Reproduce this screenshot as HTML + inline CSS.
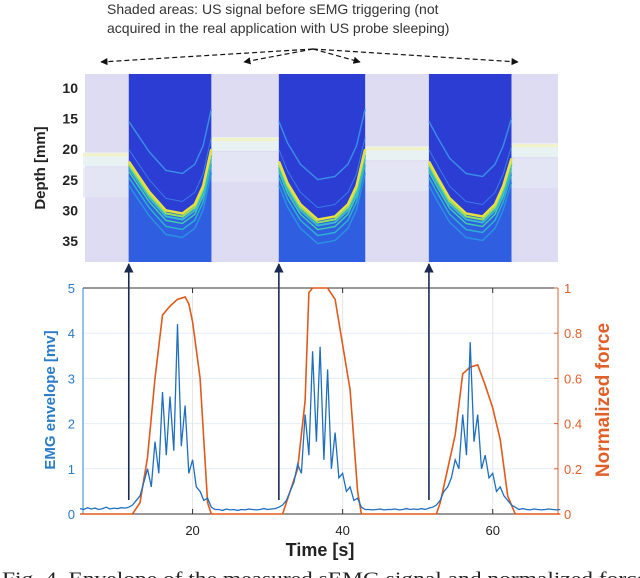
<!DOCTYPE html>
<html><head><meta charset="utf-8"><style>
body{margin:0;background:#fff;}
svg{display:block;font-family:"Liberation Sans",sans-serif;}
</style></head><body>
<svg id="fig" width="640" height="578" viewBox="0 0 640 578" xmlns="http://www.w3.org/2000/svg">
<defs>
<marker id="ah" viewBox="0 0 10 10" refX="9" refY="5" markerWidth="6" markerHeight="6" orient="auto-start-reverse"><path d="M0,0L10,5L0,10z" fill="#111"/></marker>
<marker id="ahb" viewBox="0 0 10 10" refX="9" refY="5" markerWidth="6" markerHeight="6" orient="auto"><path d="M0,0L10,5L0,10z" fill="#1a2a55"/></marker>
</defs>
<g>
<text x="107" y="14" font-size="14" fill="#333">Shaded areas: US signal before sEMG triggering (not</text>
<text x="107" y="33" font-size="14" fill="#333">acquired in the real application with US probe sleeping)</text>
<g stroke="#111" stroke-width="1.2" stroke-dasharray="5,3" fill="none">
<line x1="313" y1="49" x2="101" y2="62" marker-end="url(#ah)"/>
<line x1="313" y1="49" x2="244" y2="62" marker-end="url(#ah)"/>
<line x1="313" y1="49" x2="360" y2="62" marker-end="url(#ah)"/>
<line x1="313" y1="49" x2="518" y2="62" marker-end="url(#ah)"/>
</g></g>
<g id="us"></g>
<g id="chart"></g>
<text x="2" y="585" font-family="Liberation Serif,serif" font-size="19" fill="#222" textLength="645" lengthAdjust="spacingAndGlyphs">Fig. 4.   Envelope of the measured sEMG signal and normalized force</text>
</svg>
<script>
// ---- data ----
const depthTicks=[10,15,20,25,30,35];
const timeTicks=[20,40,60];
const emgTicks=[0,1,2,3,4,5];
const forceTicks=[0,0.2,0.4,0.6,0.8,1];
const forceTickLabels=["0","0.2","0.4","0.6","0.8","1"];
const triggerTimes=[11.5,31.5,51.5];
const panelEnds=[22.5,43,62.5];
const forceT=[5,12,13,14,15,16,17,18,19,19.5,20,21,22,22.5,32,33,34,35,35.5,36,37,38,39,40,41,42,42.5,52.5,53,54,55,56,57,58,59,60,61,62,63,69];
const forceV=[0,0,0.05,0.25,0.6,0.88,0.92,0.95,0.96,0.93,0.85,0.6,0.05,0,0,0.1,0.2,0.5,0.98,1,1,1,0.95,0.75,0.55,0.1,0,0,0.05,0.2,0.35,0.62,0.65,0.66,0.57,0.47,0.33,0.08,0,0];
const emgT0=5, emgStep=0.5;
const emgV=[0.12,0.1,0.14,0.11,0.13,0.1,0.12,0.15,0.11,0.13,0.12,0.14,0.13,0.15,
0.2,0.3,0.4,0.7,1.0,0.6,1.6,0.9,2.7,1.3,2.6,1.4,4.2,1.5,2.4,0.9,1.2,0.6,0.5,0.3,0.35,0.15,0.1,
0.1,0.08,0.11,0.09,0.1,0.08,0.1,0.09,0.11,0.1,0.09,0.1,0.12,0.1,0.11,0.12,0.15,0.2,
0.3,0.5,0.7,1.1,0.9,2.2,1.3,3.6,1.6,3.7,1.2,3.2,1.0,1.8,0.8,0.9,0.5,0.6,0.3,0.35,0.15,0.1,
0.1,0.09,0.1,0.11,0.09,0.1,0.1,0.11,0.09,0.1,0.12,0.1,0.11,0.1,0.12,0.1,0.13,0.15,0.2,
0.3,0.5,0.6,0.8,1.2,1.0,2.2,1.3,3.8,1.6,2.2,1.0,1.3,0.8,0.9,0.5,0.6,0.4,0.3,0.2,0.15,0.1,0.12,
0.1,0.09,0.11,0.1,0.09,0.1,0.11,0.1,0.09,0.1];
const curveF=[0,0.1,0.25,0.45,0.65,0.8,0.9,1];
const curveD=[[22,24,27,30,30.5,29,26,20],[22,25.5,29,31.5,31,29,26,20],[22,24.5,28,30.5,31,29,26,21.5]];
const restD=[21,18.5,20,19.5];
// ---- scales ----
const NS="http://www.w3.org/2000/svg";
const X0=83,X1=558,T0=5.4,T1=68.7;
const x=t=>X0+(t-T0)*(X1-X0)/(T1-T0);
const yE=v=>514-v*(514-288)/5;
const yF=v=>514-v*(514-288);
const yD=d=>88+(d-10)*6.12;
function mk(tag,attrs,parent,txt){const e=document.createElementNS(NS,tag);for(const k in attrs)e.setAttribute(k,attrs[k]);if(txt!==undefined)e.textContent=txt;parent.appendChild(e);return e;}
// ---- ultrasound ----
const us=document.getElementById('us');
let bg=mk('rect',{x:X0+2,y:74,width:X1-X0-2,height:188,fill:'#dedcf2'},us);


const starts=[T0].concat(panelEnds), stops=triggerTimes.concat([T1]);
for(let i=0;i<4;i++){
 const d=restD[i];
 let b=mk('rect',{x:x(starts[i]),y:yD(d)-3,width:x(stops[i])-x(starts[i]),height:14,fill:'#eaf4f2',opacity:0.9},us);
 
 
 mk('rect',{x:x(starts[i]),y:yD(d)-2,width:x(stops[i])-x(starts[i]),height:3,fill:'#f2f2c8'},us);
 mk('rect',{x:x(starts[i]),y:yD(d)+12,width:x(stops[i])-x(starts[i]),height:30,fill:'#e4e6f4',opacity:0.8},us);
}
for(let i=0;i<3;i++){
 const a=x(triggerTimes[i]),b=x(panelEnds[i]);
 let p=mk('rect',{x:a,y:74,width:b-a,height:188,fill:'#2b3dd2'},us);
 
 
 const pts=off=>curveF.map((f,k)=>(a+f*(b-a)).toFixed(1)+','+(yD(curveD[i][k])+off).toFixed(1)).join(' ');
 const area=pts(0)+' '+b.toFixed(1)+',262 '+a.toFixed(1)+',262';
 mk('polygon',{points:area,fill:'#2f5ee0'},us);
 [[24,'#2a90e0',1.5],[16,'#2cb0d0',1.5],[10,'#40c8b0',1.5],[6,'#3ab8d0',2],[3,'#8fe060',2],[0,'#e8e040',2.5],[-12,'#3a7ae6',1],[-40,'#3a8ae8',1.5]].forEach(s=>{
  let l=mk('polyline',{points:pts(s[0]),fill:'none',stroke:s[1],'stroke-width':s[2]},us);
  
  
 });
}
depthTicks.forEach(d=>{
 let t=mk('text',{x:78,y:yD(d)+5,'font-size':14,'font-weight':'bold','text-anchor':'end',fill:'#222'},us,String(d));
 
 
});
let dl=mk('text',{transform:'translate(45,168) rotate(-90)','font-size':15,'font-weight':'bold','text-anchor':'middle',fill:'#222'},us,'Depth [mm]');


// ---- chart ----
const ch=document.getElementById('chart');
emgTicks.forEach(v=>{ if(v>0&&v<5) mk('line',{x1:X0,x2:X1,y1:yE(v),y2:yE(v),stroke:'#e3eef8','stroke-width':1},ch);});
timeTicks.forEach(t=>{ mk('line',{x1:x(t),x2:x(t),y1:288,y2:514,stroke:'#e6e6e6'},ch);});
mk('line',{x1:X0,x2:X1,y1:288,y2:288,stroke:'#333'},ch);
mk('line',{x1:X0,x2:X1,y1:514,y2:514,stroke:'#333'},ch);
mk('line',{x1:X0,x2:X0,y1:288,y2:514,stroke:'#2e86c8'},ch);
mk('line',{x1:X1,x2:X1,y1:288,y2:514,stroke:'#e0602a'},ch);
timeTicks.forEach(t=>{
 mk('line',{x1:x(t),x2:x(t),y1:514,y2:509,stroke:'#333'},ch);
 mk('line',{x1:x(t),x2:x(t),y1:288,y2:293,stroke:'#333'},ch);
 let l=mk('text',{x:x(t),y:535,'font-size':13,'text-anchor':'middle',fill:'#222'},ch,String(t));
 
 
});
emgTicks.forEach(v=>{
 let l=mk('text',{x:75,y:yE(v)+5,'font-size':13,'text-anchor':'end',fill:'#2a7cc8'},ch,String(v));
 
 
});
forceTicks.forEach((v,i)=>{
 mk('line',{x1:X1,x2:X1-4,y1:yF(v),y2:yF(v),stroke:'#e0602a'},ch);
 let l=mk('text',{x:564,y:yF(v)+5,'font-size':13,fill:'#e0602a'},ch,forceTickLabels[i]);
 
 
});
let fp=mk('polyline',{points:forceT.map((t,i)=>x(t).toFixed(1)+','+yF(forceV[i]).toFixed(1)).join(' '),fill:'none',stroke:'#e05a1c','stroke-width':1.6},ch);


let ep=mk('polyline',{points:emgV.map((v,i)=>x(emgT0+i*emgStep).toFixed(1)+','+yE(v).toFixed(1)).join(' '),fill:'none',stroke:'#1f6fc0','stroke-width':1.3},ch);


triggerTimes.forEach(t=>{
 let a=mk('line',{x1:x(t),x2:x(t),y1:500,y2:264,stroke:'#1a2a55','stroke-width':1.6,'marker-end':'url(#ahb)'},ch);
 
 
});
let xt=mk('text',{x:320,y:556,'font-size':18,'font-weight':'bold','text-anchor':'middle',fill:'#222'},ch,'Time [s]');


let yl=mk('text',{transform:'translate(55,400) rotate(-90)','font-size':15,'font-weight':'bold','text-anchor':'middle',fill:'#2a7cc8'},ch,'EMG envelope [mv]');


let yr=mk('text',{transform:'translate(609,400) rotate(-90)','font-size':19,'font-weight':'bold','text-anchor':'middle',fill:'#e0602a'},ch,'Normalized force');


</script>
</body></html>
